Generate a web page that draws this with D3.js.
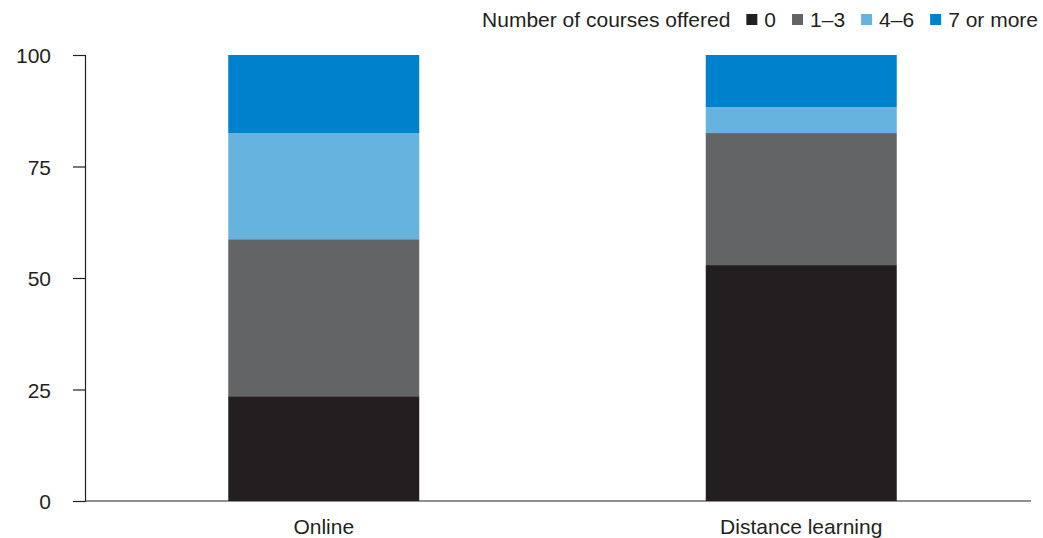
<!DOCTYPE html>
<html>
<head>
<meta charset="utf-8">
<script src="https://cdn.jsdelivr.net/npm/d3@7"></script>
<style>
    body { margin: 0; background: #fff; }
    text { font-family: "Liberation Sans", Arial, sans-serif; fill: #231f20; }
</style>
</head>
<body>
<script>
const categories = ["Online", "Distance learning"];
const groups = ["0", "1–3", "4–6", "7 or more"];
const values_0 = [23.5, 52.9];
const values_1_3 = [35.2, 29.6];
const values_4_6 = [23.8, 5.8];
const values_7plus = [17.5, 11.7];
const y_ticks = [0, 25, 50, 75, 100];
const colours = ["#231f20", "#636466", "#67b3e0", "#0081cb"];
const legend_title = "Number of courses offered";

const width = 1043;
const height = 538;
const margin = { left: 85, right: 3, top: 55, bottom: 37 };
const font_size = 21;

const table = categories.map((c, i) => ({
    category: c,
    "0": values_0[i],
    "1–3": values_1_3[i],
    "4–6": values_4_6[i],
    "7 or more": values_7plus[i]
}));

const svg = d3.select("body")
    .append("svg")
    .attr("width", width)
    .attr("height", height);

const x = d3.scaleBand()
    .domain(categories)
    .range([margin.left, width - margin.right])
    .paddingInner(0.6)
    .paddingOuter(0.3);

const y = d3.scaleLinear()
    .domain([0, 100])
    .range([height - margin.bottom, margin.top]);

const colour = d3.scaleOrdinal()
    .domain(groups)
    .range(colours);

const stacked = d3.stack().keys(groups)(table);

svg.append("g")
    .selectAll("g")
    .data(stacked)
    .join("g")
    .attr("fill", d => colour(d.key))
    .selectAll("rect")
    .data(d => d)
    .join("rect")
    .attr("x", d => x(d.data.category))
    .attr("width", x.bandwidth())
    .attr("y", d => y(d[1]))
    .attr("height", d => y(d[0]) - y(d[1]));

// y axis
const y_axis = svg.append("g")
    .attr("transform", `translate(${margin.left},0)`)
    .call(d3.axisLeft(y).tickValues(y_ticks).tickSize(12).tickPadding(22));
y_axis.select(".domain").attr("stroke", "#231f20").attr("stroke-width", 1.2);
y_axis.selectAll(".tick line").attr("stroke", "#231f20").attr("stroke-width", 1.2);
y_axis.selectAll(".tick text")
    .attr("font-size", font_size)
    .attr("font-family", "Liberation Sans, Arial, sans-serif")
    .attr("fill", "#231f20")
    .attr("dy", "0.36em");

// baseline
svg.append("line")
    .attr("x1", margin.left)
    .attr("x2", width - 12)
    .attr("y1", y(0))
    .attr("y2", y(0))
    .attr("stroke", "#231f20")
    .attr("stroke-width", 1.2);

// x labels
svg.append("g")
    .selectAll("text")
    .data(categories)
    .join("text")
    .attr("x", d => x(d) + x.bandwidth() / 2)
    .attr("y", 534)
    .attr("text-anchor", "middle")
    .attr("font-size", font_size)
    .text(d => d);

// legend, laid out right to left so it ends at the right edge
const legend = svg.append("g").attr("class", "legend");
const legend_right = 1038;
const legend_y = 27;
const box = 11;
let cursor = legend_right;
const items = groups.slice().reverse();
items.forEach(g => {
    const t = legend.append("text")
        .attr("y", legend_y)
        .attr("font-size", font_size)
        .text(g);
    const w = t.node().getComputedTextLength();
    cursor -= w;
    t.attr("x", cursor);
    cursor -= 7 + box;
    legend.append("rect")
        .attr("x", cursor)
        .attr("y", legend_y - 13)
        .attr("width", box)
        .attr("height", box)
        .attr("fill", colour(g));
    cursor -= 16;
});
legend.append("text")
    .attr("x", cursor)
    .attr("y", legend_y)
    .attr("text-anchor", "end")
    .attr("font-size", font_size)
    .text(legend_title);
</script>
</body>
</html>
